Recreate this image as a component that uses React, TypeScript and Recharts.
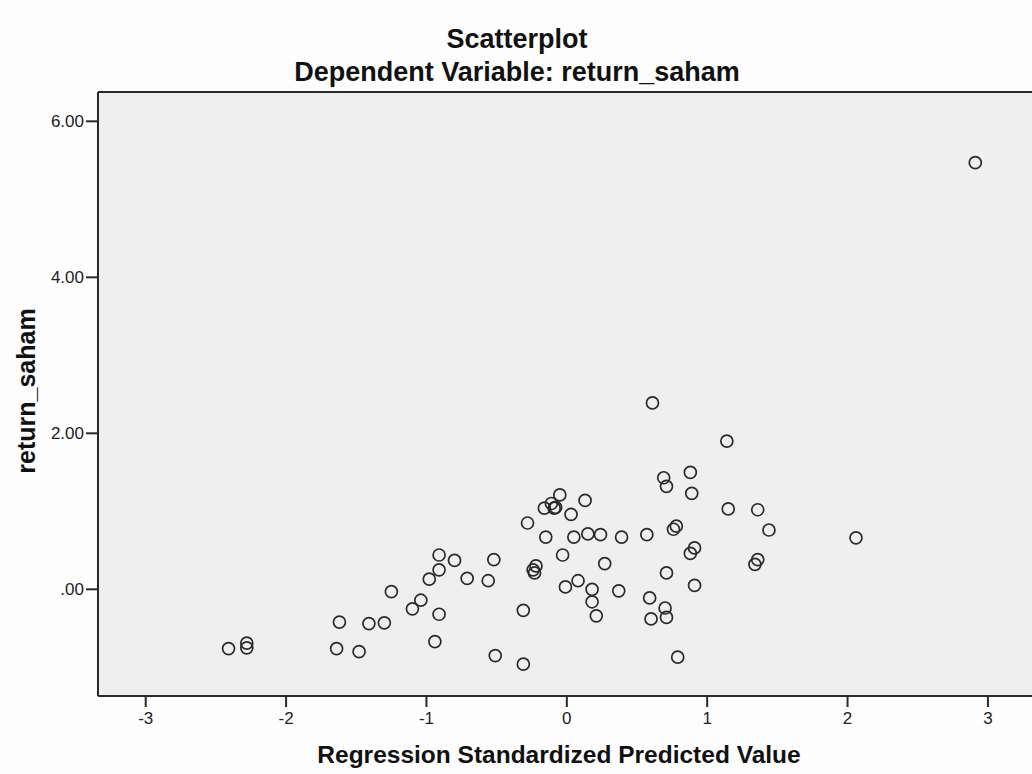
import { ScatterChart, Scatter, XAxis, YAxis, CartesianGrid, ReferenceLine } from "recharts";

// regression standardized predicted value (x) and return_saham (y)
const predicted = [
  -2.41, -2.28, -2.28, -1.62, -1.64, -1.48, -1.41, -1.3, -1.25, -1.1, -1.04, -0.98,
  -0.91, -0.91, -0.91, -0.94, -0.8, -0.71, -0.56, -0.52, -0.51, -0.31, -0.31, -0.28,
  -0.24, -0.22, -0.23, -0.16, -0.15, -0.11, -0.08, -0.09, -0.05, -0.03, -0.01, 0.03,
  0.05, 0.08, 0.13, 0.15, 0.18, 0.18, 0.21, 0.24, 0.27, 0.37, 0.39, 0.57, 0.59, 0.6,
  0.61, 0.69, 0.71, 0.71, 0.7, 0.71, 0.76, 0.78, 0.79, 0.88, 0.89, 0.88, 0.91, 0.91,
  1.14, 1.15, 1.36, 1.44, 1.36, 1.34, 2.06, 2.91,
];
const returnSaham = [
  -0.76, -0.69, -0.75, -0.42, -0.76, -0.8, -0.44, -0.43, -0.03, -0.25, -0.14, 0.13,
  0.44, 0.25, -0.32, -0.67, 0.37, 0.14, 0.11, 0.38, -0.85, -0.96, -0.27, 0.85,
  0.25, 0.3, 0.21, 1.04, 0.67, 1.1, 1.05, 1.04, 1.21, 0.44, 0.03, 0.96,
  0.67, 0.11, 1.14, 0.71, 0.0, -0.16, -0.34, 0.7, 0.33, -0.02, 0.67, 0.7, -0.11, -0.38,
  2.39, 1.43, 1.32, 0.21, -0.24, -0.36, 0.77, 0.81, -0.87, 1.5, 1.23, 0.46, 0.53, 0.05,
  1.9, 1.03, 1.02, 0.76, 0.38, 0.32, 0.66, 5.47,
];

const xTicks = [-3, -2, -1, 0, 1, 2, 3];
const yTicks = [0, 2, 4, 6];
const xDomain = [-3.34, 3.314];
const yDomain = [-1.368, 6.376];

const points = predicted.map((x, i) => ({ x, y: returnSaham[i] }));

const FONT = '"Liberation Sans", Arial, sans-serif';

const Ring = (props: any) => (
  <circle cx={props.cx} cy={props.cy} r={6} fill="none" stroke="#2a2a2a" strokeWidth={1.7} />
);

export default function App() {
  return (
    <div
      style={{
        position: "absolute",
        left: 0,
        top: 0,
        width: 1032,
        height: 774,
        background: "#fdfdfd",
        fontFamily: FONT,
        overflow: "hidden",
      }}
    >
      <ScatterChart width={1032} height={774} margin={{ top: 92, right: 0, left: 38, bottom: 0 }}>
        <CartesianGrid fill="#efefef" horizontal={false} vertical={false} stroke="none" />
        <XAxis
          type="number"
          dataKey="x"
          domain={xDomain}
          ticks={xTicks}
          allowDataOverflow
          height={78}
          tickSize={11}
          tickMargin={5}
          stroke="#2a2a2a"
          strokeWidth={2}
          tick={{ fill: "#222", fontSize: 17, fontFamily: FONT }}
        />
        <YAxis
          type="number"
          dataKey="y"
          domain={yDomain}
          ticks={yTicks}
          allowDataOverflow
          width={60}
          tickSize={12}
          tickMargin={2}
          stroke="#2a2a2a"
          strokeWidth={2}
          tickFormatter={(v: number) => (v === 0 ? ".00" : v.toFixed(2))}
          tick={{ fill: "#222", fontSize: 17, fontFamily: FONT }}
        />
        <ReferenceLine y={yDomain[1]} stroke="#2a2a2a" strokeWidth={2} />
        <Scatter data={points} shape={Ring} isAnimationActive={false} />
      </ScatterChart>

      <div style={{ position: "absolute", left: 0, width: 1034, top: 24, textAlign: "center", fontSize: 27, fontWeight: "bold", color: "#111", lineHeight: "30px" }}>
        Scatterplot
      </div>
      <div style={{ position: "absolute", left: 0, width: 1034, top: 57, textAlign: "center", fontSize: 27, fontWeight: "bold", color: "#111", lineHeight: "30px" }}>
        Dependent Variable: return_saham
      </div>
      <div style={{ position: "absolute", left: 84, width: 950, top: 740, textAlign: "center", fontSize: 24.5, fontWeight: "bold", color: "#111", lineHeight: "30px" }}>
        Regression Standardized Predicted Value
      </div>
      <div
        style={{
          position: "absolute",
          left: 26,
          top: 391,
          transform: "translate(-50%, -50%) rotate(-90deg)",
          whiteSpace: "nowrap",
          fontSize: 25,
          fontWeight: "bold",
          color: "#111",
          lineHeight: "30px",
        }}
      >
        return_saham
      </div>
    </div>
  );
}
